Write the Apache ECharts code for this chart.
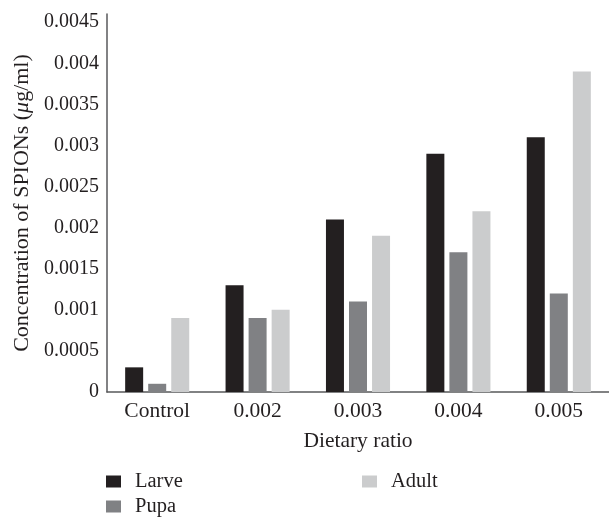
<!DOCTYPE html>
<html>
<head>
<meta charset="utf-8">
<script src="https://cdn.jsdelivr.net/npm/echarts@6/dist/echarts.min.js"></script>
<style>
html,body{margin:0;padding:0;background:#fff;}
#chart{width:609px;height:519px;}
</style>
</head>
<body>
<div id="chart"></div>
<script>
const categories = ['Control', '0.002', '0.003', '0.004', '0.005'];
const larve = [0.0003, 0.0013, 0.0021, 0.0029, 0.0031];
const pupa  = [0.0001, 0.0009, 0.0011, 0.0017, 0.0012];
const adult = [0.0009, 0.0010, 0.0019, 0.0022, 0.0039];
const yTicks = { min: 0, max: 0.0046, interval: 0.0005 };

const FONT = '"Liberation Serif", "Times New Roman", serif';
const TXT = '#231f20';
const chart = echarts.init(document.getElementById('chart'), null, {renderer: 'canvas'});

function bar(name, data, color) {
  return {
    name: name, type: 'bar', data: data, barWidth: 18, barGap: '28%',
    itemStyle: { color: color }, emphasis: { disabled: true }
  };
}
function legendItem(name, left, top) {
  return {
    data: [name], orient: 'vertical', left: left, top: top,
    itemWidth: 15, itemHeight: 12, icon: 'rect', padding: 0,
    textStyle: { fontFamily: FONT, fontSize: 20.5, color: TXT, padding: [0, 0, 0, 9] }
  };
}

chart.setOption({
  animation: false,
  backgroundColor: '#fff',
  textStyle: { fontFamily: FONT, color: TXT },
  grid: { left: 107, top: 14, width: 511, height: 378, containLabel: false },
  xAxis: {
    type: 'category', data: categories,
    axisLine: { lineStyle: { color: '#58595b', width: 1.5 } },
    axisTick: { show: false },
    axisLabel: { fontFamily: FONT, fontSize: 21.5, color: TXT, margin: 8 },
    name: 'Dietary ratio', nameLocation: 'middle', nameGap: 38,
    nameTextStyle: { fontFamily: FONT, fontSize: 21.5, color: TXT }
  },
  yAxis: {
    type: 'value', min: yTicks.min, max: yTicks.max, interval: yTicks.interval,
    splitLine: { show: false },
    axisLine: { show: true, lineStyle: { color: '#58595b', width: 1.5 } },
    axisTick: { show: false },
    axisLabel: {
      fontFamily: FONT, fontSize: 20, color: TXT, margin: 8, showMaxLabel: false,
      formatter: function (v) { return String(parseFloat(v.toFixed(4))); }
    },
    name: 'Concentration of SPIONs ({i|μ}g/ml)', nameLocation: 'middle', nameGap: 72,
    nameTextStyle: {
      fontFamily: FONT, fontSize: 22, color: TXT,
      rich: { i: { fontFamily: FONT, fontSize: 22, fontStyle: 'italic', color: TXT } }
    }
  },
  legend: [
    legendItem('Larve', 106, 471),
    legendItem('Pupa', 106, 496),
    legendItem('Adult', 362, 471)
  ],
  series: [
    bar('Larve', larve, '#231f20'),
    bar('Pupa', pupa, '#808184'),
    bar('Adult', adult, '#cbcccd')
  ]
});
</script>
</body>
</html>
